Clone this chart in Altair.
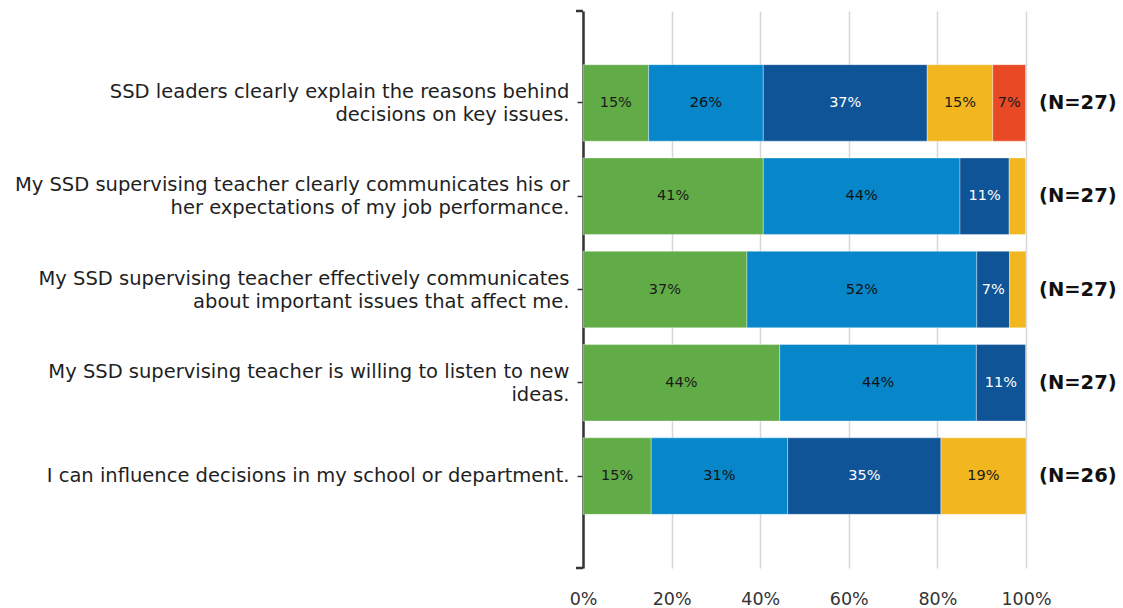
import altair as alt
import pandas as pd

questions = [
    "SSD leaders clearly explain the reasons behind|decisions on key issues.",
    "My SSD supervising teacher clearly communicates his or|her expectations of my job performance.",
    "My SSD supervising teacher effectively communicates|about important issues that affect me.",
    "My SSD supervising teacher is willing to listen to new|ideas.",
    "I can influence decisions in my school or department.",
]
n_labels = ["(N=27)", "(N=27)", "(N=27)", "(N=27)", "(N=26)"]
levels = ["L1", "L2", "L3", "L4", "L5"]
colors = ["#62AC47", "#0787C9", "#0F5497", "#F2B61E", "#E84A26"]
text_colors = ["#1a1a1a", "#111111", "#ffffff", "#1a1a1a", "#1a1a1a"]
values = [
    [14.8, 25.9, 37.0, 14.8, 7.4],
    [40.7, 44.4, 11.1, 3.7, 0.0],
    [37.0, 51.9, 7.4, 3.7, 0.0],
    [44.4, 44.4, 11.1, 0.0, 0.0],
    [15.4, 30.8, 34.6, 19.2, 0.0],
]

rows = []
for q, vals in zip(questions, values):
    start = 0.0
    for i, v in enumerate(vals):
        if v <= 0:
            continue
        end = start + v
        rows.append({
            "q": q, "level": levels[i], "start": start / 100, "end": end / 100,
            "mid": (start + end) / 200,
            "label": f"{round(v)}%" if v >= 5 else "",
            "tcolor": text_colors[i],
        })
        start = end
df = pd.DataFrame(rows)
ndf = pd.DataFrame({"q": questions, "n": n_labels})

W, H = 443, 557
yscale = alt.Scale(domain=questions, paddingInner=0.18, paddingOuter=0.575)
yaxis = alt.Axis(
    title=None, labelExpr="split(datum.label, '|')", labelFont="DejaVu Sans",
    labelFontSize=19.5, labelColor="#1f1f1f", labelLimit=700, labelPadding=8,
    labelLineHeight=23, domainColor="#333333", domainWidth=2.5, tickColor="#333333",
    tickSize=6, tickWidth=1.5, grid=False,
    labelOffset={"condition": {"test": "indexof(datum.label, '|') >= 0", "value": -11}, "value": 0},
)

bars = alt.Chart(df).mark_bar(stroke="white", strokeWidth=0.6, strokeOpacity=0.6).encode(
    y=alt.Y("q:N", scale=yscale, axis=yaxis, sort=questions),
    x=alt.X("start:Q", scale=alt.Scale(domain=[0, 1], nice=False),
            axis=alt.Axis(title=None, format="%", values=[0, 0.2, 0.4, 0.6, 0.8, 1.0],
                          labelFont="DejaVu Sans", labelFontSize=17.5, labelColor="#333333",
                          labelPadding=22, labelFlush=False, domain=False, ticks=False,
                          grid=True, gridColor="#d6d6d6", gridWidth=1.5)),
    x2="end:Q",
    color=alt.Color("level:N", scale=alt.Scale(domain=levels, range=colors), legend=None),
)

text = alt.Chart(df).mark_text(font="DejaVu Sans", fontSize=14.5).encode(
    y=alt.Y("q:N", scale=yscale, sort=questions),
    x=alt.X("mid:Q"),
    text="label:N",
    color=alt.Color("tcolor:N", scale=None),
)

ntext = alt.Chart(ndf).mark_text(font="DejaVu Sans", fontSize=19.5, fontWeight="bold",
                                 align="left", dx=13, color="#111111").encode(
    y=alt.Y("q:N", scale=yscale, sort=questions),
    x=alt.datum(1),
    text="n:N",
)

caps = alt.Chart(pd.DataFrame({"yy": [0, H]})).mark_rule(color="#333333", strokeWidth=2.5).encode(
    x=alt.value(-7), x2=alt.value(0), y=alt.Y("yy:Q", scale=None),
)

chart = alt.layer(bars, text, ntext, caps).properties(
    width=W, height=H,
    autosize=alt.AutoSizeParams(type="none"),
    padding={"left": 583, "top": 11, "right": 97, "bottom": 40},
).configure_view(stroke=None).configure_axis(labelFont="DejaVu Sans")

chart.save("out.html", embed_options={"renderer": "svg", "actions": False})
